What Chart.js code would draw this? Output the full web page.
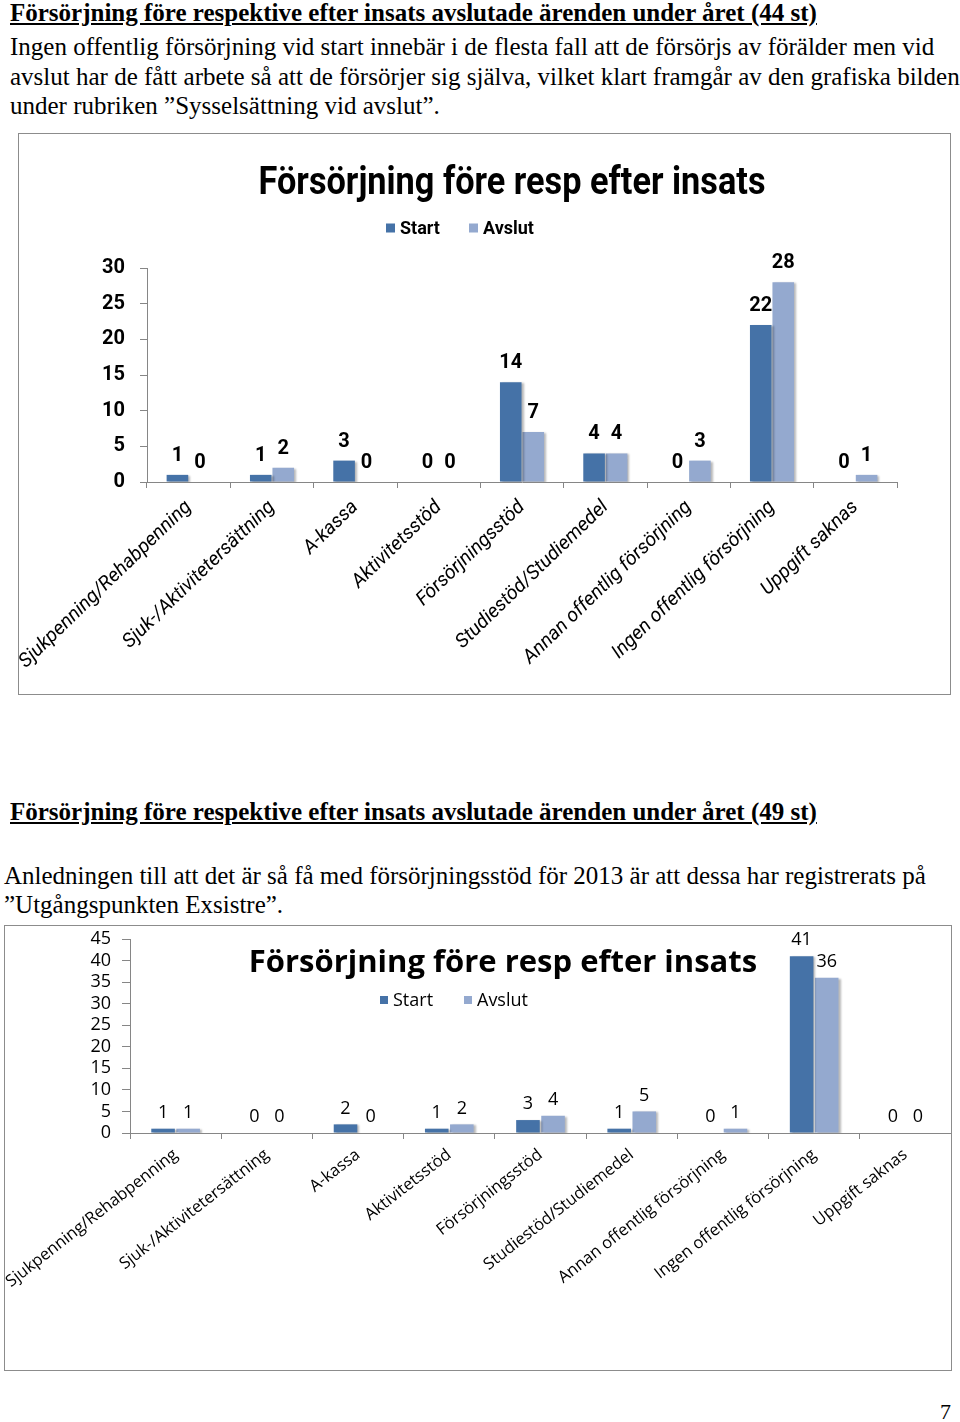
<!DOCTYPE html>
<html>
<head>
<meta charset="utf-8">
<script src="https://cdn.jsdelivr.net/npm/chart.js@4.4.1/dist/chart.umd.min.js"></script>
<style>
body{margin:0;width:960px;height:1422px;position:relative;background:#fff;color:#000;overflow:hidden;
  font-family:"Liberation Serif","Times New Roman",serif}
.t{position:absolute;white-space:nowrap;font-size:25px;line-height:26px}
.h{font-weight:bold;text-decoration:underline}
.box{position:absolute;border:1px solid #8c8c8c;box-sizing:border-box;background:#fff}
.box canvas{position:absolute;left:0;top:0}
</style>
</head>
<body>
<div class="t h" style="left:10px;top:0px">Försörjning före respektive efter insats avslutade ärenden under året (44 st)</div>
<div class="t" style="left:10px;top:34px">Ingen offentlig försörjning vid start innebär i de flesta fall att de försörjs av förälder men vid</div>
<div class="t" style="left:10px;top:64px">avslut har de fått arbete så att de försörjer sig själva, vilket klart framgår av den grafiska bilden</div>
<div class="t" style="left:10px;top:93px">under rubriken ”Sysselsättning vid avslut”.</div>

<div class="box" style="left:18px;top:133px;width:933px;height:562px">
  <canvas id="chart44" width="931" height="560" style="width:931px;height:560px"></canvas>
</div>

<div class="t h" style="left:10px;top:799px">Försörjning före respektive efter insats avslutade ärenden under året (49 st)</div>
<div class="t" style="left:4px;top:863px">Anledningen till att det är så få med försörjningsstöd för 2013 är att dessa har registrerats på</div>
<div class="t" style="left:4px;top:892px">”Utgångspunkten Exsistre”.</div>

<div class="box" style="left:4px;top:925px;width:948px;height:446px">
  <canvas id="chart49" width="946" height="444" style="width:946px;height:444px"></canvas>
</div>

<div class="t" style="left:940px;top:1399px;font-size:22px">7</div>

<script>
// kategorier (samma i båda diagrammen)
const categories = [
  "Sjukpenning/Rehabpenning",
  "Sjuk-/Aktivitetersättning",
  "A-kassa",
  "Aktivitetsstöd",
  "Försörjningsstöd",
  "Studiestöd/Studiemedel",
  "Annan offentlig försörjning",
  "Ingen offentlig försörjning",
  "Uppgift saknas"
];
const seriesNames = ["Start", "Avslut"];
const chartTitle = "Försörjning före resp efter insats";

// 44 st
const start44 = [1, 1, 3, 0, 14, 4, 0, 22, 0];
const avslut44 = [0, 2, 0, 0, 7, 4, 3, 28, 1];
const yMax44 = 30;

// 49 st
const start49 = [1, 0, 2, 1, 3, 1, 0, 41, 0];
const avslut49 = [1, 0, 0, 2, 4, 5, 1, 36, 0];
const yMax49 = 45;

const yStep = 5;
const colStart = '#4572a7';
const colAvslut = '#94a9cf';
const axisCol = '#868686';

// skugga under staplarna, som i Excel
const barShadow = {
  id: 'barShadow',
  beforeDatasetsDraw(chart) {
    const c = chart.ctx;
    c.save();
    c.shadowColor = 'rgba(0,0,0,0.28)';
    c.shadowOffsetX = 2;
    c.shadowOffsetY = 1;
    c.shadowBlur = 2;
  },
  afterDatasetsDraw(chart) {
    chart.ctx.restore();
  }
};

// värden ovanför staplarna + rubrik och förklaring
const decor = {
  id: 'decor',
  afterDraw(chart, args, o) {
    const c = chart.ctx;
    c.save();
    c.fillStyle = '#000';
    c.textAlign = 'center';
    c.textBaseline = 'middle';
    c.font = o.valueFont;
    chart.data.datasets.forEach((ds, i) => {
      chart.getDatasetMeta(i).data.forEach((bar, j) => {
        c.fillText(String(ds.data[j]), bar.x, bar.y - o.valueGap);
      });
    });

    // rubriken trycks ihop till samma bredd som i originalet
    c.font = o.titleFont;
    const w = c.measureText(chartTitle).width;
    const k = o.titleW ? o.titleW / w : 1;
    c.save();
    c.translate(o.titleX, o.titleY);
    c.scale(k, 1);
    c.fillText(chartTitle, 0, 0);
    c.restore();

    c.font = o.legendFont;
    c.textAlign = 'left';
    let x = o.legendX;
    chart.data.datasets.forEach((ds, i) => {
      c.fillStyle = ds.backgroundColor;
      c.fillRect(x, o.legendY - o.box / 2, o.box, o.box);
      c.fillStyle = '#000';
      c.fillText(ds.label, x + o.box + 5, o.legendY + 1);
      x += o.legendStep;
    });
    c.restore();
  }
};

function makeChart(id, startVals, avslutVals, yMax, s) {
  return new Chart(document.getElementById(id), {
    type: 'bar',
    data: {
      labels: categories,
      datasets: [
        { label: seriesNames[0], data: startVals, backgroundColor: colStart,
          categoryPercentage: s.catPct, barPercentage: s.barPct },
        { label: seriesNames[1], data: avslutVals, backgroundColor: colAvslut,
          categoryPercentage: s.catPct, barPercentage: s.barPct }
      ]
    },
    options: {
      responsive: false,
      animation: false,
      layout: { padding: s.padding },
      plugins: {
        legend: { display: false },
        title: { display: false },
        tooltip: { enabled: false },
        decor: s.decor
      },
      scales: {
        x: {
          grid: { drawOnChartArea: false, tickLength: 6, color: axisCol, offset: true },
          border: { color: axisCol },
          ticks: {
            autoSkip: false, minRotation: s.rot, maxRotation: s.rot,
            padding: s.xPad, color: '#000', font: s.xFont
          },
          afterFit(sc) { sc.height = s.xHeight; sc.paddingLeft = 0; sc.paddingRight = 0; }
        },
        y: {
          min: 0, max: yMax,
          grid: { drawOnChartArea: false, tickLength: s.yTick, color: axisCol },
          border: { color: axisCol },
          ticks: { stepSize: yStep, autoSkip: false, padding: s.yPad, color: '#000', font: s.yFont },
          afterFit(sc) { sc.width = s.yWidth; sc.paddingTop = 0; sc.paddingBottom = 0; }
        }
      }
    },
    plugins: [barShadow, decor]
  });
}

makeChart('chart44', start44, avslut44, yMax44, {
  catPct: 0.54, barPct: 0.96,
  padding: { top: 134, right: 53, bottom: 0, left: 0 },
  xHeight: 212, yWidth: 128,
  rot: 44, xPad: 8, yTick: 7, yPad: 15,
  xFont: { family: 'Roboto', style: 'italic', size: 19.5 },
  yFont: { family: 'Roboto', weight: 'bold', size: 20 },
  decor: {
    valueFont: 'bold 20px Roboto', valueGap: 19,
    titleFont: 'bold 38px Roboto', titleX: 493, titleY: 50, titleW: 507,
    legendFont: 'bold 18px Roboto', legendX: 367, legendY: 94,
    legendStep: 83, box: 9
  }
});

makeChart('chart49', start49, avslut49, yMax49, {
  catPct: 0.55, barPct: 0.94,
  padding: { top: 13, right: 0, bottom: 0, left: 0 },
  xHeight: 237, yWidth: 125,
  rot: 38, xPad: 6, yTick: 8, yPad: 11,
  xFont: { family: 'Open Sans', size: 16.5 },
  yFont: { family: 'Open Sans', size: 18 },
  decor: {
    valueFont: '18px "Open Sans"', valueGap: 16,
    titleFont: 'bold 31px "Open Sans"', titleX: 498, titleY: 37, titleW: 0,
    legendFont: '18px "Open Sans"', legendX: 375, legendY: 74,
    legendStep: 84, box: 8
  }
});
</script>
</body>
</html>
